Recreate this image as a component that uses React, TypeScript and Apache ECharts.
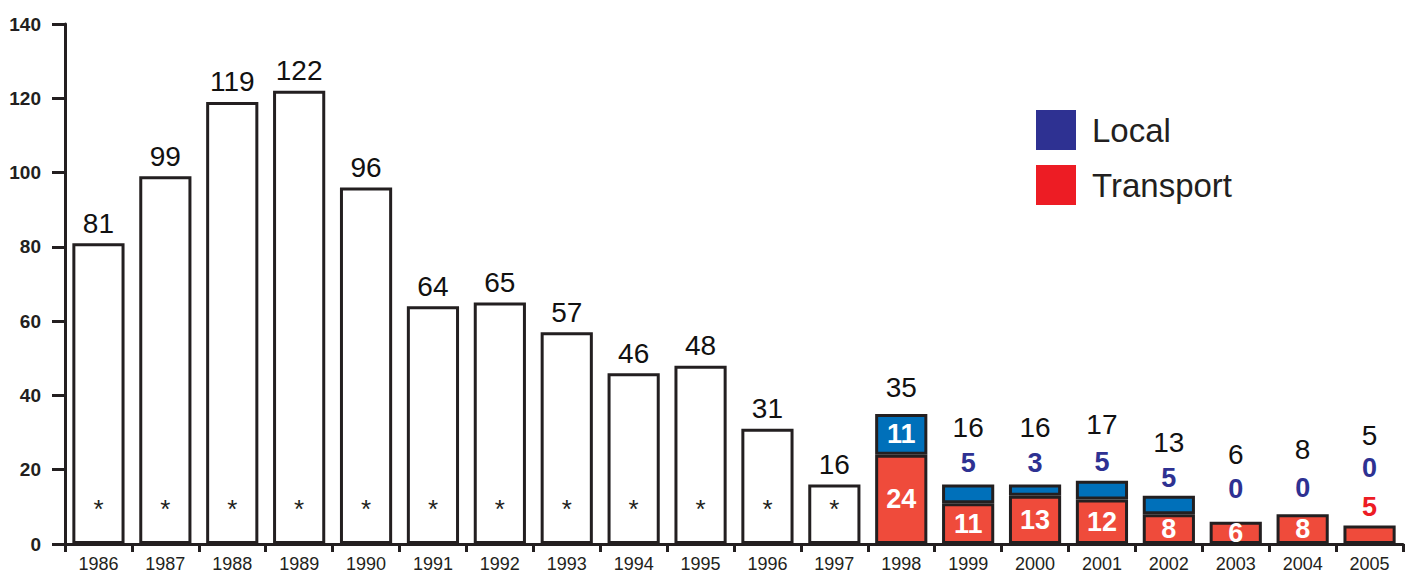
import React, { useEffect, useRef } from "react";
import * as echarts from "echarts";

const years = ["1986","1987","1988","1989","1990","1991","1992","1993","1994","1995","1996","1997","1998","1999","2000","2001","2002","2003","2004","2005"];
const totals = [81, 99, 119, 122, 96, 64, 65, 57, 46, 48, 31, 16, 35, 16, 16, 17, 13, 6, 8, 5];
// Breakdown for 1998-2005
const localVals = [11, 5, 3, 5, 5, 0, 0, 0];
const transportVals = [24, 11, 13, 12, 8, 6, 8, 5];
const yTicks = [0, 20, 40, 60, 80, 100, 120, 140];

const FONT = "'Liberation Sans', Arial, sans-serif";
const INK = "#231F20";
const RED = "#EF4B3B";
const BLUE = "#0070BA";
const LEG_BLUE = "#2E3192";
const LEG_RED = "#ED1C24";

const splitAt = 12;
const totalDist = [6,6,6,6,6,6,6,6,6,6,6,6, 12, 43, 43, 42, 39, 53, 51, 76];
const localDist = [0, 8, 8, 5, 4, 19, 13, 44];

export default function App() {
  const ref = useRef<HTMLDivElement>(null);
  useEffect(() => {
    document.body.style.margin = "0";
    if (!ref.current) return;
    const chart = echarts.init(ref.current, null, { renderer: "svg" });
    const whiteData = years.map((_, i) => (i < splitAt ? totals[i] : "-"));
    const transportData = years.map((_, i) => {
      if (i < splitAt) return "-";
      const j = i - splitAt;
      const v = transportVals[j];
      if (j === 7) return { value: v, label: { position: "top", distance: 5, color: LEG_RED } };
      return v;
    });
    const localData = years.map((_, i) => {
      if (i < splitAt) return "-";
      const j = i - splitAt;
      const v = localVals[j];
      if (j === 0) return { value: v, label: { position: "inside", color: "#fff" } };
      const item: any = { value: v, label: { position: "top", distance: localDist[j], color: LEG_BLUE } };
      if (v === 0) item.itemStyle = { borderWidth: 0 };
      return item;
    });
    const totalData = years.map((_, i) => ({
      value: totals[i],
      label: { distance: totalDist[i] },
    }));

    chart.setOption({
      animation: false,
      grid: { left: 65, right: 5, top: 24, bottom: 28 },
      legend: {
        orient: "vertical",
        left: 1036,
        top: 110,
        padding: 0,
        itemWidth: 40,
        itemHeight: 40,
        itemGap: 15,
        icon: "rect",
        textStyle: { fontFamily: FONT, fontSize: 33, color: INK, padding: [0, 0, 0, 11] },
        data: [
          { name: "Local", itemStyle: { color: LEG_BLUE, borderWidth: 0 } },
          { name: "Transport", itemStyle: { color: LEG_RED, borderWidth: 0 } },
        ],
      },
      xAxis: {
        type: "category",
        data: years,
        axisLine: { lineStyle: { color: INK, width: 3 } },
        axisTick: { show: true, length: 8, lineStyle: { color: INK, width: 3 } },
        axisLabel: { fontFamily: FONT, fontSize: 18, color: INK, margin: 11 },
      },
      yAxis: {
        type: "value",
        min: 0,
        max: 140,
        interval: 20,
        splitLine: { show: false },
        axisLine: { show: true, lineStyle: { color: INK, width: 3 } },
        axisTick: { show: true, inside: false, length: 13, lineStyle: { color: INK, width: 3 } },
        axisLabel: {
          fontFamily: FONT,
          fontSize: 19,
          fontWeight: "bold",
          color: INK,
          margin: 24,
          formatter: (v: number) => (yTicks.includes(v) ? String(v) : ""),
        },
      },
      series: [
        {
          name: "Total",
          type: "bar",
          stack: "a",
          barCategoryGap: "22%",
          data: whiteData,
          itemStyle: { color: "#fff", borderColor: INK, borderWidth: 3 },
          label: {
            show: true,
            position: "insideBottom",
            distance: 22,
            formatter: "*",
            fontFamily: FONT,
            fontSize: 26,
            color: INK,
          },
        },
        {
          name: "Transport",
          type: "bar",
          stack: "a",
          barCategoryGap: "22%",
          data: transportData,
          itemStyle: { color: RED, borderColor: INK, borderWidth: 3 },
          label: {
            show: true,
            position: "inside",
            fontFamily: FONT,
            fontSize: 27,
            fontWeight: "bold",
            color: "#fff",
          },
        },
        {
          name: "Local",
          type: "bar",
          stack: "a",
          barCategoryGap: "22%",
          data: localData,
          itemStyle: { color: BLUE, borderColor: INK, borderWidth: 3 },
          label: {
            show: true,
            fontFamily: FONT,
            fontSize: 27,
            fontWeight: "bold",
          },
        },
        {
          name: "Totals",
          type: "scatter",
          symbol: "circle",
          symbolSize: 0.01,
          itemStyle: { color: INK, opacity: 1 },
          data: totalData,
          z: 5,
          label: {
            show: true,
            position: "top",
            fontFamily: FONT,
            fontSize: 28,
            color: "#111",
          },
        },
      ],
    });
    return () => chart.dispose();
  }, []);
  return <div ref={ref} style={{ width: 1408, height: 573 }} />;
}
